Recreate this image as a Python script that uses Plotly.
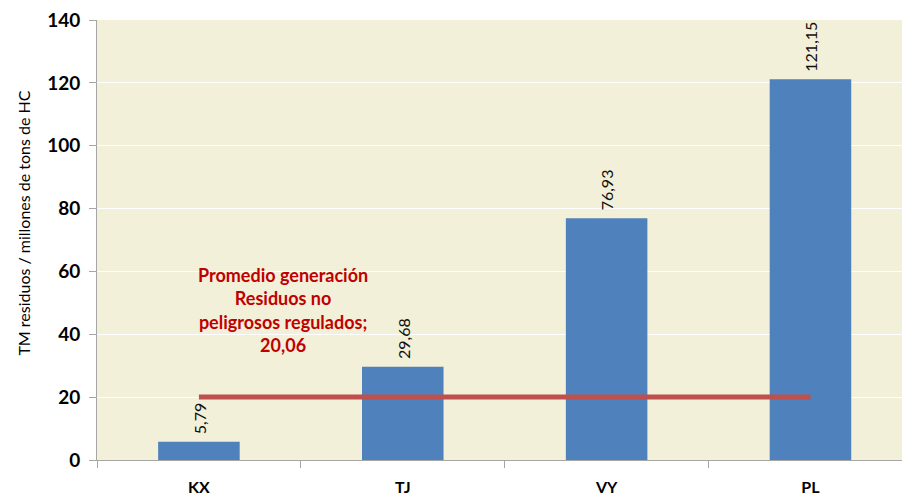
import plotly.graph_objects as go

categories = ["KX", "TJ", "VY", "PL"]
values = [5.79, 29.68, 76.93, 121.15]
value_labels = ["5,79", "29,68", "76,93", "121,15"]
promedio = 20.06
promedio_text = "Promedio generación<br>Residuos no<br>peligrosos regulados;<br>20,06"
title_text = "Generación de residuos no peligrosos regulados (2008-2010)"
y_title = "TM residuos / millones de tons de HC"
y_ticks = [0, 20, 40, 60, 80, 100, 120, 140]

FONT = "Lato"
L, R, T, B, W, H = 97, 0, 20, 33, 902, 496
PW, PH = W - L - R, H - T - B

fig = go.Figure()
fig.add_trace(go.Bar(
    x=categories, y=values, width=0.4,
    marker=dict(color="#4F81BD", line=dict(width=0)),
    showlegend=False, hoverinfo="skip",
))
fig.add_trace(go.Scatter(
    x=[categories[0], categories[-1]], y=[promedio, promedio],
    mode="lines", line=dict(color="#C0504D", width=5),
    showlegend=False, hoverinfo="skip",
))

for c, v, lab in zip(categories, values, value_labels):
    fig.add_annotation(
        x=c, y=v, xref="x", yref="y", text=lab, textangle=-90,
        showarrow=False, font=dict(family=FONT, size=16, color="#111111"),
        xanchor="center", yanchor="bottom", yshift=6,
    )

fig.add_annotation(
    x=0.41, y=47.6, xref="x", yref="y", text="<b>" + promedio_text + "</b>",
    showarrow=False, font=dict(family=FONT, size=18, color="#C00000"),
    align="center", xanchor="center", yanchor="middle",
)
fig.add_annotation(
    x=(735 - L) / PW, xref="paper", y=1, yref="paper",
    text="<b>" + title_text + "</b>",
    showarrow=False, font=dict(family=FONT, size=20, color="#000000"),
    xanchor="right", yanchor="bottom", yshift=18,
)
fig.add_annotation(
    x=(24 - L) / PW, xref="paper", y=(H - B - 225) / PH, yref="paper",
    text=y_title, textangle=-90,
    showarrow=False, font=dict(family=FONT, size=16, color="#000000"),
    xanchor="center", yanchor="middle",
)

fig.update_layout(
    width=W, height=H,
    margin=dict(l=L, r=R, t=T, b=B),
    paper_bgcolor="white", plot_bgcolor="#F2F0D8",
    font=dict(family=FONT),
)
fig.update_xaxes(
    range=[-0.5, 3.449], showline=True, linecolor="#A6A6A6", linewidth=1,
    ticks="outside", tickson="boundaries", ticklen=7, tickcolor="#A6A6A6",
    tickfont=dict(family=FONT, size=16, color="#000000", weight="bold"),
    ticklabelstandoff=13, showgrid=False,
)
fig.update_yaxes(
    range=[0, 140], tickvals=y_ticks, showline=True, linecolor="#A6A6A6", linewidth=1,
    ticks="outside", ticklen=7, tickcolor="#A6A6A6",
    tickfont=dict(family=FONT, size=19, color="#000000", weight="bold"),
    ticklabelstandoff=5,
    showgrid=True, gridcolor="#FFFFFF", gridwidth=1, zeroline=False,
)

fig.write_html("out.html", config={"displayModeBar": False},
               post_script="document.body.style.margin='0';")
